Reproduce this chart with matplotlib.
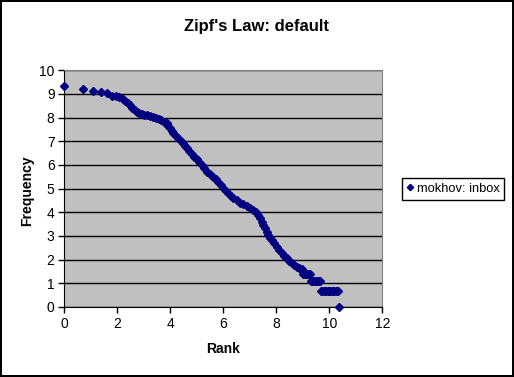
import matplotlib
matplotlib.use("Agg")
import matplotlib.pyplot as plt

# values (ln rank vs ln frequency)
rank = [0.00, 0.69, 1.10, 1.39, 1.61, 1.79, 1.95, 2.08, 2.20, 2.30, 2.40, 2.48, 2.56,
        2.65, 2.73, 2.82, 2.92, 3.02, 3.11, 3.22, 3.33, 3.45, 3.56, 3.66, 3.76, 3.86,
        3.93, 3.99, 4.05, 4.11, 4.20, 4.30, 4.40, 4.49, 4.56, 4.64, 4.72, 4.81, 4.90,
        4.99, 5.08, 5.18, 5.27, 5.37, 5.50, 5.62, 5.72, 5.81, 5.90, 6.00, 6.10, 6.19,
        6.28, 6.38, 6.50, 6.63, 6.75, 6.88, 7.00, 7.13, 7.23, 7.32, 7.39, 7.45, 7.51,
        7.57, 7.64, 7.70, 7.76, 7.82, 7.92, 8.01, 8.10, 8.20, 8.30, 8.39, 8.48, 8.58,
        8.68, 8.77, 8.86, 8.96, 9.02, 9.07, 9.12, 9.17, 9.22, 9.27, 9.30, 9.35, 9.40,
        9.45, 9.50, 9.55, 9.60, 9.65, 9.69, 9.74, 9.79, 9.84, 9.89, 9.94, 9.99, 10.04,
        10.09, 10.14, 10.19, 10.24, 10.29, 10.34, 10.38]
freq = [9.35, 9.20, 9.13, 9.08, 9.04, 8.92, 8.90, 8.88, 8.77, 8.70, 8.63, 8.52, 8.42,
        8.33, 8.25, 8.18, 8.14, 8.12, 8.10, 8.07, 8.04, 8.00, 7.95, 7.90, 7.83, 7.76,
        7.66, 7.55, 7.45, 7.34, 7.24, 7.13, 7.03, 6.92, 6.81, 6.70, 6.58, 6.46, 6.35,
        6.24, 6.12, 6.00, 5.86, 5.72, 5.61, 5.51, 5.41, 5.30, 5.15, 5.01, 4.90, 4.80,
        4.70, 4.59, 4.50, 4.41, 4.34, 4.27, 4.19, 4.10, 4.00, 3.89, 3.75, 3.61, 3.46,
        3.32, 3.18, 3.04, 2.93, 2.83, 2.69, 2.55, 2.41, 2.27, 2.16, 2.06, 1.95, 1.85,
        1.77, 1.70, 1.64, 1.59, 1.39, 1.39, 1.39, 1.39, 1.39, 1.39, 1.10, 1.10, 1.10,
        1.10, 1.10, 1.10, 1.10, 1.10, 0.69, 0.69, 0.69, 0.69, 0.69, 0.69, 0.69, 0.69,
        0.69, 0.69, 0.69, 0.69, 0.69, 0.69, 0.00]
xticks = [0, 2, 4, 6, 8, 10, 12]
yticks = list(range(0, 11))

plt.rcParams['font.family'] = ['Liberation Sans', 'DejaVu Sans']

W, H = 514, 377
fig = plt.figure(figsize=(W / 100, H / 100), dpi=100, facecolor='white',
                 edgecolor='black', linewidth=1.5)
ax = fig.add_axes([64.3 / W, 1 - 307 / H, (382.3 - 64.3) / W, (307 - 70.3) / H])
ax.set_facecolor('#C0C0C0')

ax.plot(rank, freq, linestyle='none', marker='D', markersize=4.3,
        color='#000080', label='mokhov: inbox', clip_on=False, zorder=3)

ax.set_xlim(0, 12)
ax.set_ylim(0, 10)
ax.set_xticks(xticks)
ax.set_yticks(yticks)
ax.yaxis.grid(True, color='black', linewidth=1)
ax.set_axisbelow(True)
ax.tick_params(direction='out', length=4, width=1, color='black', labelsize=10, pad=3)

for s in ['top', 'right']:
    ax.spines[s].set_color('#808080')
for s in ['left', 'bottom']:
    ax.spines[s].set_color('black')

fig.text(257 / W, 1 - 26.7 / H, "Zipf's Law: default", ha='center', va='center',
         fontsize=12, fontweight='bold')
fig.text(223 / W, 1 - 349 / H, 'Rank', ha='center', va='center',
         fontsize=10, fontweight='bold')
fig.text(27 / W, 1 - 191 / H, 'Frequency', ha='center', va='center',
         fontsize=10, fontweight='bold', rotation=90)

leg = fig.legend(loc='center', bbox_to_anchor=(453 / W, 1 - 189 / H), fontsize=9.3,
                 fancybox=False, edgecolor='black', framealpha=1, borderpad=0.35,
                 handlelength=0.5, handletextpad=0.3, markerscale=0.75)
leg.get_frame().set_linewidth(1)

fig.savefig('out.png', dpi=100)
